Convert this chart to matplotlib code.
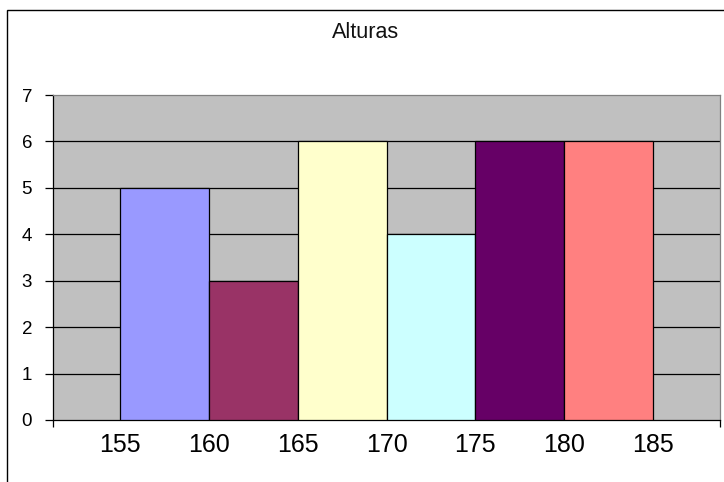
import matplotlib
matplotlib.use("Agg")
import matplotlib.pyplot as plt
from matplotlib.patches import Rectangle

plt.rcParams['font.family'] = ['Liberation Sans', 'DejaVu Sans']

title = "Alturas"
edges = [155, 160, 165, 170, 175, 180, 185]
counts = [5, 3, 6, 4, 6, 6]
colors = ["#9999FF", "#993366", "#FFFFCC", "#CCFFFF", "#660066", "#FF8080"]
yticks = [0, 1, 2, 3, 4, 5, 6, 7]

W, H = 724, 482
fig = plt.figure(figsize=(W / 100, H / 100), dpi=100)
fig.patch.set_facecolor("white")

# outer chart border
fig.patches.append(Rectangle((7 / W, -0.05), 1.2, 1.05 - 10 / H, transform=fig.transFigure,
                             fill=False, edgecolor="black", linewidth=1.0, zorder=0))

ax = fig.add_axes([53 / W, 62 / H, (720 - 53) / W, (420 - 95) / H])
ax.set_facecolor("#C0C0C0")

ax.bar(edges[:-1], counts, width=5, align="edge", color=colors,
       edgecolor="black", linewidth=0.9, zorder=3)

ax.set_xlim(151.24, 188.76)
ax.set_ylim(0, 7)

ax.set_yticks(yticks)
ax.set_yticklabels([str(v) for v in yticks], fontsize=13.5)
ax.tick_params(axis="y", direction="out", length=6, width=0.9, pad=9, color="black")
for v in yticks[1:-1]:
    ax.axhline(v, color="black", linewidth=0.9, zorder=1)

ax.set_xticks(edges)
ax.set_xticklabels([str(e) for e in edges], fontsize=18)
ax.tick_params(axis="x", which="major", length=0, pad=9)
ax.set_xticks([151.24, 188.76], minor=True)
ax.tick_params(axis="x", which="minor", direction="out", length=5, width=0.9, color="black")

for s in ["left", "bottom"]:
    ax.spines[s].set_color("black")
    ax.spines[s].set_linewidth(0.9)
for s in ["top", "right"]:
    ax.spines[s].set_color("#808080")
    ax.spines[s].set_linewidth(0.9)

fig.text(366 / W, 1 - 22 / H, title, ha="center", va="top", fontsize=15.5, color="#111111")

fig.savefig("out.png", dpi=100)
